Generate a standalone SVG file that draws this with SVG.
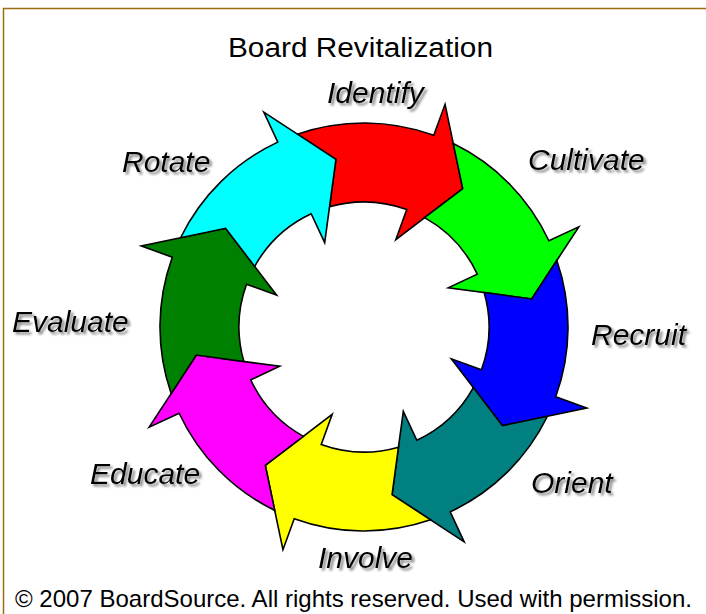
<svg xmlns="http://www.w3.org/2000/svg" xmlns:xlink="http://www.w3.org/1999/xlink" width="706" height="614" viewBox="0 0 706 614">
  <style>
    .arrow { stroke: #000; stroke-width: 1.6; stroke-linejoin: miter; }
    .lbl { font-family: "Liberation Sans", Arial, sans-serif; font-style: italic; font-size: 30px; fill: #000; filter: url(#shadow); }
    .title { font-family: "Liberation Sans", Arial, sans-serif; font-size: 27px; fill: #000; }
    .copy { font-family: "Liberation Sans", Arial, sans-serif; font-size: 24px; fill: #000; }
  </style>
  <defs>
    <filter id="shadow" x="-10%" y="-20%" width="130%" height="150%">
      <feDropShadow dx="2.5" dy="2.5" stdDeviation="0.9" flood-color="#7a7a7a" flood-opacity="0.9"/>
    </filter>
    <path id="arrow" d="M -66.58 -192.83 A 204 204 0 0 1 69.77 -191.70 L 81.06 -222.71 L 98.72 -138.40 L 31.81 -87.39 L 42.75 -117.46 A 125 125 0 0 0 -34.46 -120.16 L -28.06 -167.67 Z"/>
  </defs>
  <rect width="706" height="614" fill="#fff"/>
  <g id="frame" fill="none" stroke="#9b6b0e" stroke-width="1.5">
    <path d="M 3.5 614 L 3.5 8.5 L 706 8.5"/>
  </g>
  <text class="title" x="228" y="57" textLength="265" lengthAdjust="spacingAndGlyphs">Board Revitalization</text>

  <g id="identify">
    <use xlink:href="#arrow" href="#arrow" class="arrow" fill="#ff0000" transform="translate(364 327) rotate(0)"/>
    <text class="lbl" x="327" y="103">Identify</text>
  </g>
  <g id="cultivate">
    <use xlink:href="#arrow" href="#arrow" class="arrow" fill="#00ff00" transform="translate(364 327) rotate(45)"/>
    <text class="lbl" x="528" y="170">Cultivate</text>
  </g>
  <g id="recruit">
    <use xlink:href="#arrow" href="#arrow" class="arrow" fill="#0000ff" transform="translate(364 327) rotate(90)"/>
    <text class="lbl" x="591" y="345">Recruit</text>
  </g>
  <g id="orient">
    <use xlink:href="#arrow" href="#arrow" class="arrow" fill="#008080" transform="translate(364 327) rotate(135)"/>
    <text class="lbl" x="531" y="493">Orient</text>
  </g>
  <g id="involve">
    <use xlink:href="#arrow" href="#arrow" class="arrow" fill="#ffff00" transform="translate(364 327) rotate(180)"/>
    <text class="lbl" x="318" y="568">Involve</text>
  </g>
  <g id="educate">
    <use xlink:href="#arrow" href="#arrow" class="arrow" fill="#ff00ff" transform="translate(364 327) rotate(225)"/>
    <text class="lbl" x="90" y="484">Educate</text>
  </g>
  <g id="evaluate">
    <use xlink:href="#arrow" href="#arrow" class="arrow" fill="#008000" transform="translate(364 327) rotate(270)"/>
    <text class="lbl" x="12" y="332">Evaluate</text>
  </g>
  <g id="rotate">
    <use xlink:href="#arrow" href="#arrow" class="arrow" fill="#00ffff" transform="translate(364 327) rotate(315)"/>
    <text class="lbl" x="122" y="172">Rotate</text>
  </g>
  <g id="connectors"/>

  <text class="copy" x="15" y="607" textLength="677" lengthAdjust="spacingAndGlyphs">© 2007 BoardSource. All rights reserved. Used with permission.</text>
</svg>
